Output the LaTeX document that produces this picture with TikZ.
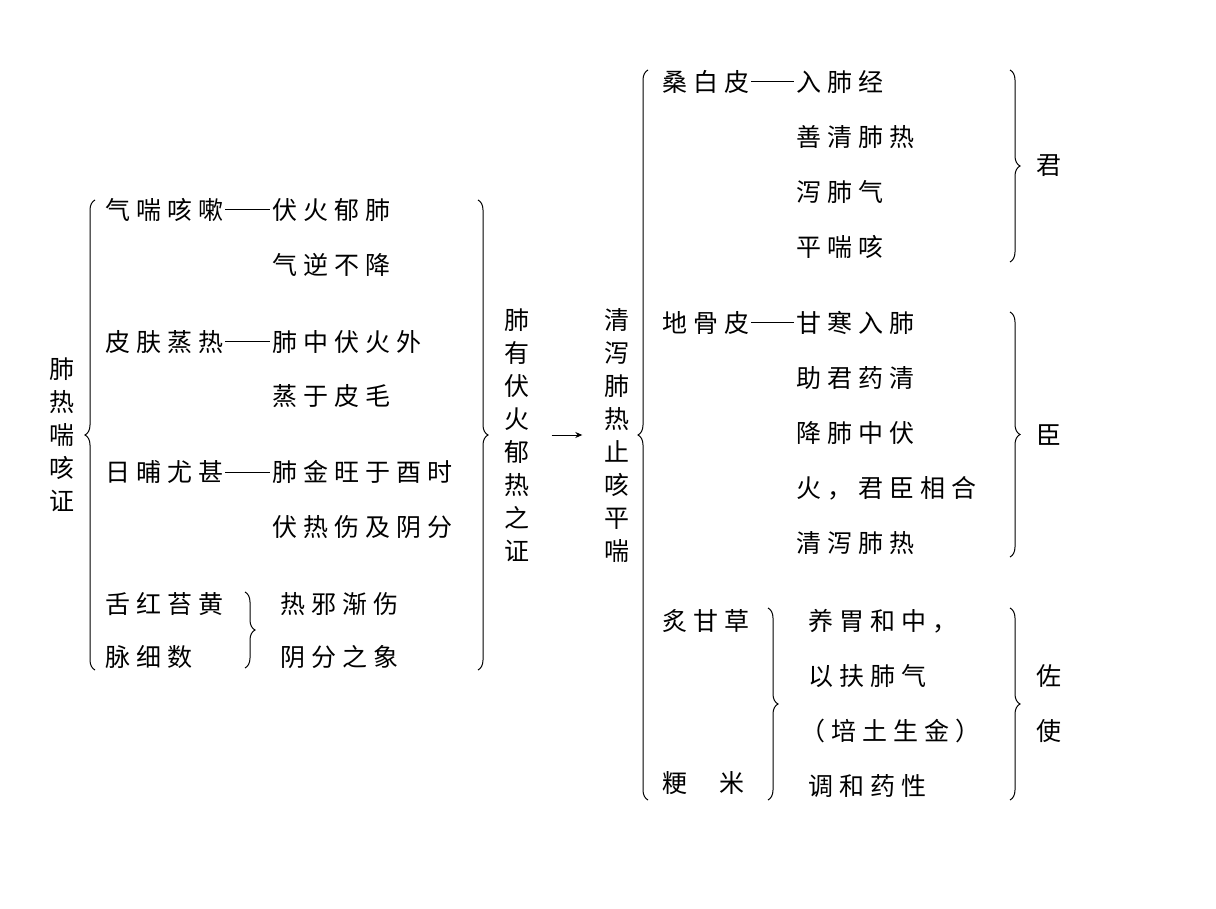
\documentclass[tikz,border=0pt]{standalone}
\usepackage{fontspec}
\newfontfamily\cjk{Noto Sans CJK SC}[LetterSpace=24]
\newfontfamily\cjkv{Noto Sans CJK SC}
\usetikzlibrary{decorations.pathreplacing,arrows.meta}
\begin{document}
\begin{tikzpicture}[x=1pt,y=-1pt,
  t/.style={anchor=west,inner sep=0pt,font=\fontsize{25}{25}\selectfont\cjk},
  vt/.style={inner sep=0pt,align=center,font=\fontsize{25}{33}\selectfont\cjkv},
  dsh/.style={line width=1pt,shorten <=2pt,shorten >=2pt},
  brc/.style={decorate,decoration={brace,amplitude=10pt},line width=1pt}]
\useasboundingbox (0,0) rectangle (1216,909);
% left
\node[vt] (a) at (62,435) {肺\\热\\喘\\咳\\证};
\draw[brc] (95,670) -- (95,200);
\node[t] (r1) at (105,210) {气喘咳嗽};
\node[t] (r1r) at (272,210) {伏火郁肺};
\draw[dsh] (r1.east) -- (r1r.west);
\node[t] (r1b) at (272,265) {气逆不降};
\node[t] (r2) at (105,342) {皮肤蒸热};
\node[t] (r2r) at (272,342) {肺中伏火外};
\draw[dsh] (r2.east) -- (r2r.west);
\node[t] (r2b) at (272,396) {蒸于皮毛};
\node[t] (r3) at (105,472) {日晡尤甚};
\node[t] (r3r) at (272,472) {肺金旺于酉时};
\draw[dsh] (r3.east) -- (r3r.west);
\node[t] (r3b) at (272,527) {伏热伤及阴分};
\node[t] (r4) at (105,604) {舌红苔黄};
\node[t] (r4b) at (105,657) {脉细数};
\draw[brc] (245,592) -- (245,668);
\node[t] (r4c) at (280,604) {热邪渐伤};
\node[t] (r4d) at (280,657) {阴分之象};
\draw[brc] (478,200) -- (478,670);
\node[vt] (b) at (517,435) {肺\\有\\伏\\火\\郁\\热\\之\\证};
\node[vt] (c) at (617,435) {清\\泻\\肺\\热\\止\\咳\\平\\喘};
\draw[-{Stealth[length=7pt,width=6pt]},line width=1pt,shorten <=22pt,shorten >=22pt] (b) -- (c);
\draw[brc] (648,800) -- (648,70);
% 君
\node[t] (s1) at (662,82) {桑白皮};
\node[t] (s1r) at (796,82) {入肺经};
\draw[dsh] (s1.east) -- (s1r.west);
\node[t] (s2) at (796,137) {善清肺热};
\node[t] (s3) at (796,192) {泻肺气};
\node[t] (s4) at (796,247) {平喘咳};
\draw[brc] (1010,70) -- (1010,262);
\node[t] (j) at (1036,166) {君};
% 臣
\node[t] (d1) at (662,323) {地骨皮};
\node[t] (d1r) at (796,323) {甘寒入肺};
\draw[dsh] (d1.east) -- (d1r.west);
\node[t] (d2) at (796,378) {助君药清};
\node[t] (d3) at (796,433) {降肺中伏};
\node[t] (d4) at (796,488) {火，君臣相合};
\node[t] (d5) at (796,543) {清泻肺热};
\draw[brc] (1010,312) -- (1010,557);
\node[t] (ch) at (1036,435) {臣};
% 佐使
\node[t] (z1) at (662,621) {炙甘草};
\node[t] (z2) at (662,783) {粳\hspace{32pt}米};
\draw[brc] (768,608) -- (768,800);
\node[t] (y1) at (808,621) {养胃和中，};
\node[t] (y2) at (808,676) {以扶肺气};
\node[t] (y3) at (800,731) {（培土生金）};
\node[t] (y4) at (808,786) {调和药性};
\draw[brc] (1010,608) -- (1010,800);
\node[t] (zu) at (1036,676) {佐};
\node[t] (sh) at (1036,731) {使};
\end{tikzpicture}
\end{document}
